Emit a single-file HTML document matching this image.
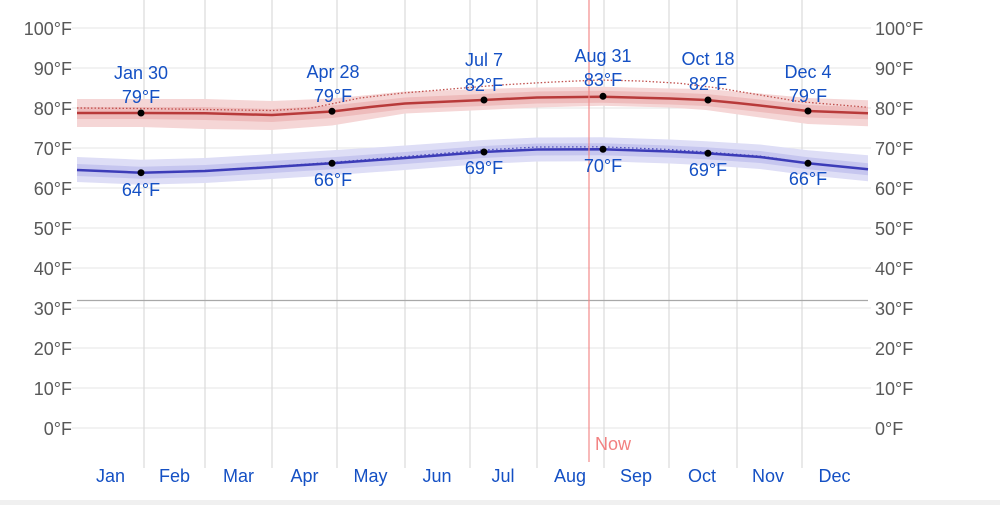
<!DOCTYPE html>
<html><head><meta charset="utf-8"><style>
html,body{margin:0;padding:0;background:#fff;}
svg{display:block;}
text{font-family:"Liberation Sans",Arial,sans-serif;}
</style></head><body>
<svg width="1000" height="505" viewBox="0 0 1000 505" xmlns="http://www.w3.org/2000/svg">
<rect x="0" y="0" width="1000" height="505" fill="#fff"/>
<rect x="0" y="500" width="1000" height="5" fill="#f0f0f0"/>
<!-- horizontal gridlines -->
<g stroke="#ebebeb" stroke-width="1.3">
<line x1="72" y1="28" x2="871" y2="28"/>
<line x1="72" y1="68" x2="871" y2="68"/>
<line x1="72" y1="108" x2="871" y2="108"/>
<line x1="72" y1="148" x2="871" y2="148"/>
<line x1="72" y1="188" x2="871" y2="188"/>
<line x1="72" y1="228" x2="871" y2="228"/>
<line x1="72" y1="268" x2="871" y2="268"/>
<line x1="72" y1="308" x2="871" y2="308"/>
<line x1="72" y1="348" x2="871" y2="348"/>
<line x1="72" y1="388" x2="871" y2="388"/>
<line x1="72" y1="428" x2="871" y2="428"/>
</g>
<!-- vertical gridlines -->
<g stroke="#dadada" stroke-width="1.2">
<line x1="144" y1="0" x2="144" y2="468"/>
<line x1="205" y1="0" x2="205" y2="468"/>
<line x1="272" y1="0" x2="272" y2="468"/>
<line x1="337" y1="0" x2="337" y2="468"/>
<line x1="405" y1="0" x2="405" y2="468"/>
<line x1="470" y1="0" x2="470" y2="468"/>
<line x1="537" y1="0" x2="537" y2="468"/>
<line x1="604" y1="0" x2="604" y2="468"/>
<line x1="669" y1="0" x2="669" y2="468"/>
<line x1="737" y1="0" x2="737" y2="468"/>
<line x1="802" y1="0" x2="802" y2="468"/>
</g>
<!-- freezing line -->
<line x1="77" y1="300.5" x2="868" y2="300.5" stroke="#a8a8a8" stroke-width="1.2"/>

<!-- red bands -->
<polygon fill="#f5d6d6" points="77,99 141,99 205,99 272,101 332,98.5 405,91.5 483,89 537,87.5 602,86.7 670,88.5 706,89 760,93.5 808,98 868,100.3 868,126.3 808,124 760,117.5 706,110 670,107.5 602,105.7 537,107.5 483,110 405,113.5 332,125.5 272,130 205,129 141,127 77,127"/>
<polygon fill="#eebcbc" points="77,107 141,107 205,107 272,109 332,105.5 405,97.5 483,94 537,91.5 602,90.7 670,92.5 706,94 760,99.5 808,105 868,107.3 868,119.3 808,117.5 760,112 706,106 670,104.5 602,102.7 537,103.5 483,106 405,109 332,118 272,122 205,120 141,119 77,119"/>
<!-- blue bands -->
<polygon fill="#dedef6" points="77,157 141,159.7 205,158 272,154 332,150.3 405,145.5 483,140 537,137.5 602,137.3 670,139.5 706,141.3 760,144.5 808,150.3 868,155.3 868,181.3 808,175.3 760,169 706,165.3 670,163.5 602,161.3 537,161.5 483,164 405,170 332,175.3 272,179 205,183 141,184.7 77,182"/>
<polygon fill="#c6c6ef" points="77,164 141,166.7 205,165 272,161 332,157.3 405,152 483,146 537,143.5 602,143.3 670,145.5 706,147.3 760,151 808,157.3 868,163.3 868,175.3 808,169.3 760,163 706,159.3 670,157.5 602,155.3 537,155.5 483,158 405,164 332,169.3 272,173 205,177 141,178.7 77,176"/>

<!-- dotted lines -->
<polyline fill="none" stroke="#c0504d" stroke-width="1.3" stroke-dasharray="1.5,2" points="77,108 141,108.5 205,109.5 272,110.5 310,108.3 360,98 403,93 467,87.7 500,85 540,82.7 560,81.7 600,80 640,81 680,83.3 720,88.3 760,95 800,101.7 868,107.3"/>
<polyline fill="none" stroke="#4a4ab8" stroke-width="1.2" stroke-dasharray="1.5,2.5" points="77,170 141,172.5 205,170.5 272,166.5 332,162.3 405,156.5 483,150 537,147 602,146.8 670,149.5 706,152 760,156 808,163 868,169.3"/>

<!-- main lines -->
<polyline fill="none" stroke="#b83a3a" stroke-width="2.5" stroke-linejoin="round" points="77,113 141,113 205,113.3 272,115 332,111.5 370,107 405,103.5 483,100 537,97.5 602,96.7 670,98.5 706,100 737,103 760,105.5 808,111 868,113.3"/>
<polyline fill="none" stroke="#3c3cb8" stroke-width="2.5" stroke-linejoin="round" points="77,170 141,172.7 205,171 272,167 332,163.3 405,158 483,152 537,149.5 602,149.3 670,151.5 706,153.3 760,157 808,163.3 868,169.3"/>

<!-- now line -->
<line x1="589" y1="0" x2="589" y2="462" stroke="#f28b8b" stroke-width="1.2"/>
<text x="595" y="450" font-size="18" fill="#f28080">Now</text>

<!-- dots -->
<g fill="#000">
<circle cx="141" cy="113" r="3.5"/>
<circle cx="332" cy="111.3" r="3.5"/>
<circle cx="484" cy="100" r="3.5"/>
<circle cx="603" cy="96.3" r="3.5"/>
<circle cx="708" cy="100" r="3.5"/>
<circle cx="808" cy="111" r="3.5"/>
<circle cx="141" cy="172.7" r="3.5"/>
<circle cx="332" cy="163.3" r="3.5"/>
<circle cx="484" cy="152" r="3.5"/>
<circle cx="603" cy="149.3" r="3.5"/>
<circle cx="708" cy="153.3" r="3.5"/>
<circle cx="808" cy="163.3" r="3.5"/>
</g>

<!-- annotations -->
<g font-size="18" fill="#1450c4" text-anchor="middle">
<text x="141" y="79">Jan 30</text>
<text x="141" y="103">79°F</text>
<text x="141" y="196">64°F</text>
<text x="333" y="78">Apr 28</text>
<text x="333" y="102">79°F</text>
<text x="333" y="186">66°F</text>
<text x="484" y="66">Jul 7</text>
<text x="484" y="91">82°F</text>
<text x="484" y="174">69°F</text>
<text x="603" y="62">Aug 31</text>
<text x="603" y="86">83°F</text>
<text x="603" y="172">70°F</text>
<text x="708" y="65">Oct 18</text>
<text x="708" y="90">82°F</text>
<text x="708" y="176">69°F</text>
<text x="808" y="78">Dec 4</text>
<text x="808" y="102">79°F</text>
<text x="808" y="185">66°F</text>
</g>

<!-- month labels -->
<g font-size="18" fill="#1450c4" text-anchor="middle">
<text x="110.5" y="482">Jan</text>
<text x="174.5" y="482">Feb</text>
<text x="238.5" y="482">Mar</text>
<text x="304.5" y="482">Apr</text>
<text x="370.5" y="482">May</text>
<text x="437" y="482">Jun</text>
<text x="503" y="482">Jul</text>
<text x="570" y="482">Aug</text>
<text x="636" y="482">Sep</text>
<text x="702" y="482">Oct</text>
<text x="768" y="482">Nov</text>
<text x="834.5" y="482">Dec</text>
</g>

<!-- left y labels -->
<g font-size="18" fill="#585858" text-anchor="end">
<text x="72" y="35">100°F</text>
<text x="72" y="75">90°F</text>
<text x="72" y="115">80°F</text>
<text x="72" y="155">70°F</text>
<text x="72" y="195">60°F</text>
<text x="72" y="235">50°F</text>
<text x="72" y="275">40°F</text>
<text x="72" y="315">30°F</text>
<text x="72" y="355">20°F</text>
<text x="72" y="395">10°F</text>
<text x="72" y="435">0°F</text>
</g>
<!-- right y labels -->
<g font-size="18" fill="#585858" text-anchor="start">
<text x="875" y="35">100°F</text>
<text x="875" y="75">90°F</text>
<text x="875" y="115">80°F</text>
<text x="875" y="155">70°F</text>
<text x="875" y="195">60°F</text>
<text x="875" y="235">50°F</text>
<text x="875" y="275">40°F</text>
<text x="875" y="315">30°F</text>
<text x="875" y="355">20°F</text>
<text x="875" y="395">10°F</text>
<text x="875" y="435">0°F</text>
</g>
</svg>
</body></html>
